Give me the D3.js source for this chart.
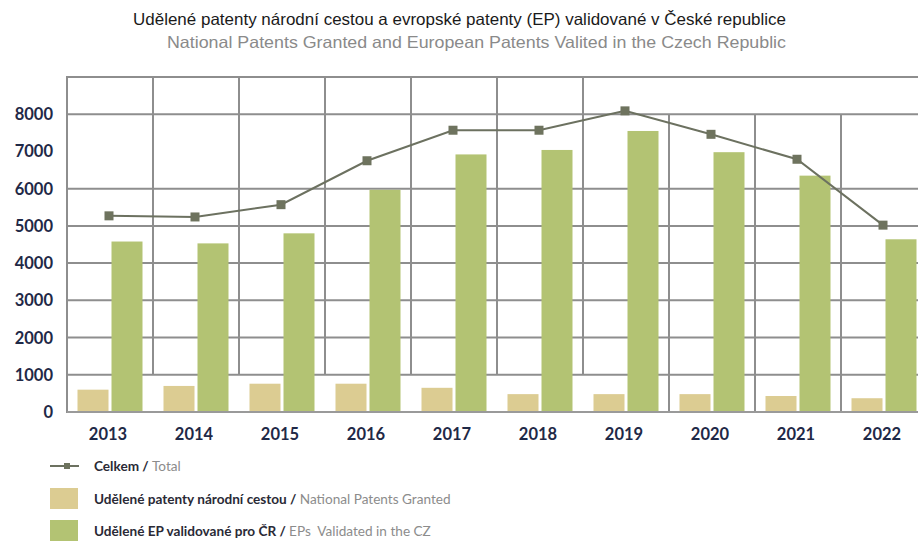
<!DOCTYPE html>
<html>
<head>
  <meta charset="utf-8">
  <title>Udělené patenty</title>
  <style type="text/css">
    body { margin: 0; background: #fff; }
    svg text { font-family: Lato, "Open Sans", sans-serif; }
    .title { font-family: "Liberation Sans", Arial, sans-serif !important; font-size: 16.5px; }
    .tick-label { font-size: 16.5px; font-weight: bold; fill: #1f2947; }
    .grid { stroke: #8e8e8e; stroke-width: 2; fill: none; }
    .legend-cz { font-weight: bold; fill: #2a2a36; font-size: 13.6px; }
    .legend-en { fill: #8c8c8c; font-size: 13.6px; }
  </style>
</head>
<body>
  <div id="chart"></div>
  <script src="https://cdnjs.cloudflare.com/ajax/libs/d3/7.8.5/d3.min.js"></script>
  <script>
  var years = ['2013', '2014', '2015', '2016', '2017', '2018', '2019', '2020', '2021', '2022'];
  var national = [600, 700, 760, 760, 650, 480, 480, 480, 430, 370];
  var validated = [4580, 4530, 4800, 5970, 6920, 7040, 7550, 6980, 6350, 4640];
  var total = [5270, 5240, 5570, 6750, 7570, 7570, 8090, 7460, 6790, 5020];
  var yTicks = [0, 1000, 2000, 3000, 4000, 5000, 6000, 7000, 8000];
  var gridValues = [1000, 2000, 3000, 4000, 5000, 6000, 8000, 9000];

  var cfg = {
    w: 918,
    h: 541,
    left: 67,
    top: 77,
    bottom: 412,
    band: 86
  };

  var svg = d3.select('#chart').append('svg')
    .attr('width', cfg.w)
    .attr('height', cfg.h);

  var x = d3.scaleBand()
    .domain(years)
    .range([cfg.left, cfg.left + cfg.band * years.length])
    .padding(0);

  var sub = d3.scaleBand()
    .domain(['national', 'validated'])
    .range([10.5, 75.5])
    .paddingInner(3 / 34)
    .paddingOuter(0);

  var y = d3.scaleLinear()
    .domain([0, 9000])
    .range([cfg.bottom, cfg.top]);

  // titles
  svg.append('text')
    .attr('class', 'title')
    .attr('x', 786).attr('y', 25)
    .attr('text-anchor', 'end')
    .attr('textLength', 653)
    .attr('lengthAdjust', 'spacingAndGlyphs')
    .style('fill', '#1a1a1a')
    .text('Udělené patenty národní cestou a evropské patenty (EP) validované v České republice');

  svg.append('text')
    .attr('class', 'title')
    .attr('x', 786).attr('y', 48)
    .attr('text-anchor', 'end')
    .attr('textLength', 619)
    .attr('lengthAdjust', 'spacingAndGlyphs')
    .style('fill', '#8a8a8a')
    .text('National Patents Granted and European Patents Valited in the Czech Republic');

  // grid - horizontal
  var g = svg.append('g');
  g.selectAll('line.h')
    .data(gridValues)
    .enter()
    .append('line')
    .attr('class', 'grid')
    .attr('x1', cfg.left).attr('x2', cfg.w)
    .attr('y1', function(d) { return y(d) })
    .attr('y2', function(d) { return y(d) });

  // vertical boundaries: first ones stop at 1000, last ones run 8000 -> 0
  var bounds = years.slice(1);
  g.selectAll('line.v')
    .data(bounds)
    .enter()
    .append('line')
    .attr('class', 'grid')
    .attr('x1', function(d) { return x(d) })
    .attr('x2', function(d) { return x(d) })
    .attr('y1', function(d, i) { return i < 6 ? y(9000) : y(8000) })
    .attr('y2', function(d, i) { return i < 6 ? y(1000) : y(0) });

  g.append('line')
    .attr('class', 'grid')
    .attr('x1', cfg.left).attr('x2', cfg.left)
    .attr('y1', y(9000) - 1).attr('y2', y(0) + 1);

  g.append('line')
    .attr('class', 'grid')
    .style('stroke', '#9a9a9a')
    .attr('x1', cfg.left).attr('x2', cfg.w)
    .attr('y1', y(0)).attr('y2', y(0));

  // bars
  svg.selectAll('rect.nat')
    .data(national)
    .enter()
    .append('rect')
    .attr('class', 'nat')
    .attr('x', function(d, i) { return x(years[i]) + sub('national') })
    .attr('width', sub.bandwidth())
    .attr('y', function(d) { return y(d) })
    .attr('height', function(d) { return y(0) - y(d) - 1 })
    .style('fill', '#dccc92');

  svg.selectAll('rect.ep')
    .data(validated)
    .enter()
    .append('rect')
    .attr('class', 'ep')
    .attr('x', function(d, i) { return x(years[i]) + sub('validated') })
    .attr('width', sub.bandwidth())
    .attr('y', function(d) { return y(d) })
    .attr('height', function(d) { return y(0) - y(d) - 1 })
    .style('fill', '#b3c373');

  // total line
  var line = d3.line()
    .x(function(d, i) { return x(years[i]) + x.bandwidth() / 2 - 1 })
    .y(function(d) { return y(d) });

  svg.append('path')
    .datum(total)
    .attr('d', line)
    .style('fill', 'none')
    .style('stroke', '#6c7160')
    .style('stroke-width', 2);

  svg.selectAll('rect.mk')
    .data(total)
    .enter()
    .append('rect')
    .attr('class', 'mk')
    .attr('x', function(d, i) { return x(years[i]) + x.bandwidth() / 2 - 1 - 4.5 })
    .attr('y', function(d) { return y(d) - 4.5 })
    .attr('width', 9).attr('height', 9)
    .style('fill', '#6e735e');

  // axis labels
  svg.selectAll('text.xl')
    .data(years)
    .enter()
    .append('text')
    .attr('class', 'tick-label')
    .attr('x', function(d) { return x(d) + x.bandwidth() / 2 - 2 })
    .attr('y', 440)
    .attr('text-anchor', 'middle')
    .text(function(d) { return d });

  svg.selectAll('text.yl')
    .data(yTicks)
    .enter()
    .append('text')
    .attr('class', 'tick-label')
    .attr('x', 53)
    .attr('y', function(d) { return y(d) + 6 })
    .attr('text-anchor', 'end')
    .text(function(d) { return d });

  // legend
  var lg = svg.append('g');
  lg.append('line')
    .attr('x1', 50).attr('x2', 79)
    .attr('y1', 466).attr('y2', 466)
    .style('stroke', '#6c7160').style('stroke-width', 2);
  lg.append('rect')
    .attr('x', 64).attr('y', 463).attr('width', 6).attr('height', 6)
    .style('fill', '#6e735e');
  lg.append('rect')
    .attr('x', 50).attr('y', 488).attr('width', 28).attr('height', 21)
    .style('fill', '#dccc92');
  lg.append('rect')
    .attr('x', 50).attr('y', 520).attr('width', 28).attr('height', 21)
    .style('fill', '#b3c373');

  var legendItems = [
    ['Celkem / ', 'Total', 471],
    ['Udělené patenty národní cestou / ', 'National Patents Granted', 504],
    ['Udělené EP validované pro ČR / ', 'EPs  Validated in the CZ', 536]
  ];
  legendItems.forEach(function(it) {
    var t = lg.append('text').attr('x', 94).attr('y', it[2]).attr('xml:space', 'preserve');
    t.append('tspan').attr('class', 'legend-cz').text(it[0]);
    t.append('tspan').attr('class', 'legend-en').text(it[1]);
  });
  </script>
</body>
</html>
